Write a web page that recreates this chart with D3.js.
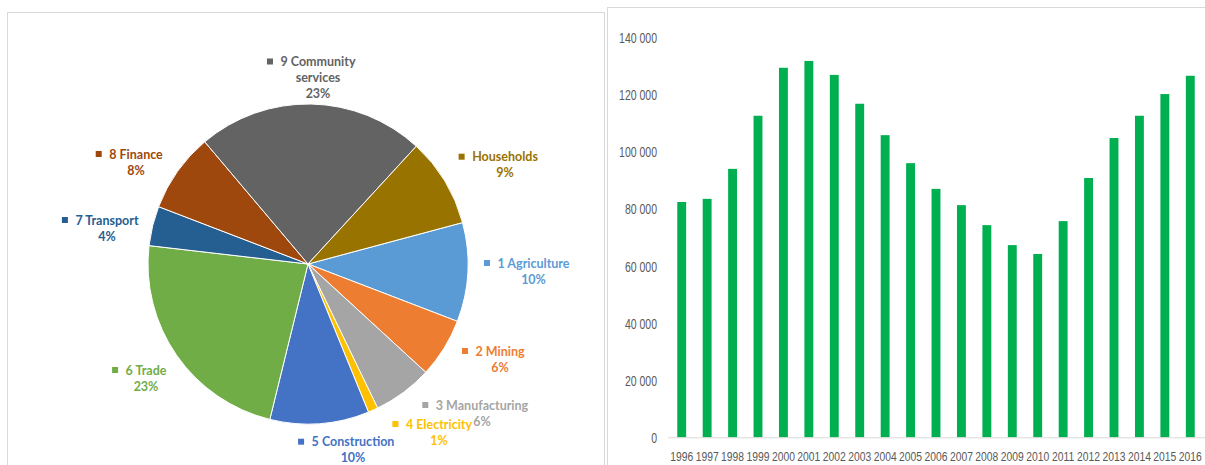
<!DOCTYPE html>
<html>
<head>
<meta charset="utf-8">
<script src="https://cdn.jsdelivr.net/npm/d3@7"></script>
<style>
  body { margin: 0; background: #fff; }
  svg { display: block; }
</style>
</head>
<body>
<svg id="chart" width="1205" height="465"></svg>
<script>
// Employment by sector (shares, %)
const sectors = ["1 Agriculture", "2 Mining", "3 Manufacturing", "4 Electricity", "5 Construction",
                 "6 Trade", "7 Transport", "8 Finance", "9 Community\nservices", "Households"];
const sectorShares = [10, 6, 6, 1, 10, 23, 4, 8, 23, 9];
const sectorColors = ["#5B9BD5", "#ED7D31", "#A5A5A5", "#FFC000", "#4472C4",
                      "#70AD47", "#255E91", "#9E480E", "#636363", "#997300"];

// Yearly totals
const years = [1996, 1997, 1998, 1999, 2000, 2001, 2002, 2003, 2004, 2005, 2006,
               2007, 2008, 2009, 2010, 2011, 2012, 2013, 2014, 2015, 2016];
const yearValues = [82400, 83500, 94000, 112600, 129400, 131800, 126900, 116800, 105800, 96000, 87000,
                    81300, 74300, 67300, 64200, 75700, 90800, 104800, 112600, 120200, 126600];
const yTicks = [0, 20000, 40000, 60000, 80000, 100000, 120000, 140000];

// Label anchors for the pie, relative to its centre: [dx, dy of first line]
const labelOffsets = [[225.5, -1], [192, 87], [174, 141], [131, 160], [45, 177.7],
                      [-162, 106], [-201, -44], [-172, -110], [10, -202.5], [197, -107.3]];

const svg = d3.select("#chart");

// panel frames
svg.append("rect").attr("x", 7.5).attr("y", 12.5).attr("width", 597).attr("height", 470)
  .attr("fill", "none").attr("stroke", "#d9d9d9");
svg.append("rect").attr("x", 607.5).attr("y", 7.5).attr("width", 610).attr("height", 470)
  .attr("fill", "none").attr("stroke", "#d9d9d9");

// ---------- Pie ----------
const cx = 308, cy = 264, r = 160;
const pie = d3.pie().value(d => d).sort(null)
  .startAngle(75 * Math.PI / 180).endAngle(75 * Math.PI / 180 + 2 * Math.PI);
const arc = d3.arc().innerRadius(0).outerRadius(r);
const pg = svg.append("g").attr("transform", `translate(${cx},${cy})`);
pg.selectAll("path.slice").data(pie(sectorShares)).join("path")
  .attr("class", "slice")
  .attr("d", arc)
  .attr("fill", (d, i) => sectorColors[i])
  .attr("stroke", "#fff").attr("stroke-width", 1);

const lineH = 16;
const labelFont = "Lato, 'Open Sans', sans-serif";
const lg = pg.selectAll("g.lbl").data(sectors).join("g")
  .attr("class", "lbl")
  .attr("transform", (d, i) => `translate(${labelOffsets[i][0]},${labelOffsets[i][1]})`)
  .attr("fill", (d, i) => sectorColors[i])
  .style("font-family", labelFont).style("font-weight", "bold").style("font-size", "12.5px");

lg.each(function (name, i) {
  const g = d3.select(this);
  const lines = name.split("\n");
  lines.forEach((ln, k) => {
    const t = g.append("text").attr("x", 0).attr("y", k * lineH + 4.5)
      .attr("text-anchor", "middle").text(ln);
    if (k === 0) {
      const w = t.node().getComputedTextLength();
      g.append("rect").attr("x", -w / 2 - 7.5 - 6).attr("y", -3).attr("width", 6).attr("height", 6);
    }
  });
  g.append("text").attr("x", 0).attr("y", lines.length * lineH + 4.5)
    .attr("text-anchor", "middle").text(sectorShares[i] + "%");
});

// ---------- Bars ----------
const x = d3.scaleBand().domain(years).range([669, 1203]).paddingInner(0.65).paddingOuter(0.325);
const y = d3.scaleLinear().domain([0, 140000]).range([437.3, 37.5]);

svg.append("g").selectAll("rect").data(yearValues).join("rect")
  .attr("x", (d, i) => x(years[i]))
  .attr("y", d => y(d))
  .attr("width", x.bandwidth())
  .attr("height", d => y(0) - y(d))
  .attr("fill", "#00B050");

// baseline
svg.append("line").attr("x1", 668).attr("x2", 1205).attr("y1", y(0) + 0.5).attr("y2", y(0) + 0.5)
  .attr("stroke", "#d9d9d9").attr("stroke-width", 1);

const axisFont = "'Liberation Sans Narrow', 'Liberation Sans', Arial, sans-serif";
const fmt = v => d3.format(",")(v).replace(/,/g, " ");

const yAxis = d3.axisLeft(y).tickValues(yTicks).tickFormat(fmt).tickSize(0).tickPadding(0);
const yg = svg.append("g").attr("transform", "translate(657,0)").call(yAxis);
yg.select(".domain").remove();
yg.selectAll("text").attr("fill", "#595959").style("font-family", axisFont)
  .style("font-size", "14px").attr("x", 0).attr("dy", "0.36em");
// narrow the tick labels horizontally (right edge stays on the tick)
const ref = yg.selectAll("text").filter(d => d === 100000).node();
const ySqueeze = 38 / ref.getComputedTextLength();
yg.selectAll("text").attr("transform", `scale(${ySqueeze},1)`);

const xAxis = d3.axisBottom(x).tickSize(0).tickPadding(0);
const xg = svg.append("g").call(xAxis);
xg.select(".domain").remove();
xg.selectAll("text").attr("fill", "#595959").style("font-family", axisFont)
  .style("font-size", "13px").attr("y", 461.5).attr("dy", 0);
const xSqueeze = 23 / xg.select("text").node().getComputedTextLength();
xg.selectAll("text").attr("transform", `scale(${xSqueeze},1)`);
</script>
</body>
</html>
